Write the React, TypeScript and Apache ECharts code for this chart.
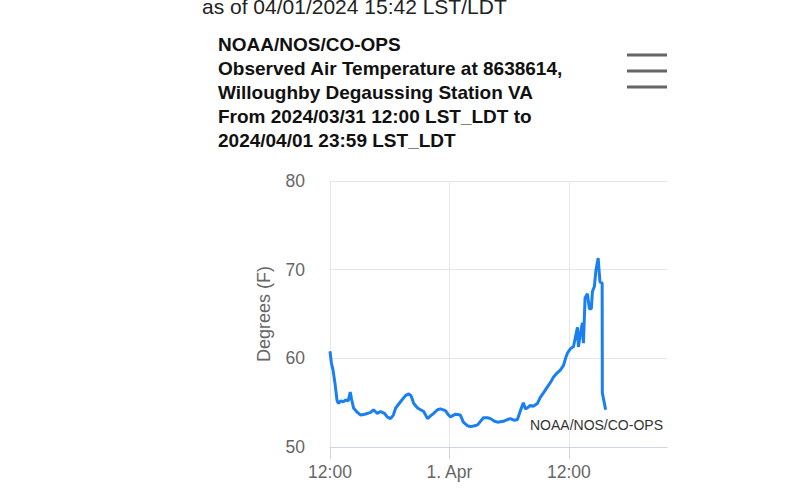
import React, { useEffect, useRef } from "react";
import * as echarts from "echarts";

// Observation times (local LST/LDT) and air temperatures (°F)
const times: string[] = [
  "03-31 12:00", "03-31 12:08", "03-31 12:18", "03-31 12:30", "03-31 12:42", "03-31 12:50",
  "03-31 13:05", "03-31 13:20", "03-31 13:35", "03-31 13:50", "03-31 14:02", "03-31 14:10",
  "03-31 14:22", "03-31 14:45", "03-31 15:05", "03-31 15:30", "03-31 15:48", "03-31 16:05",
  "03-31 16:22", "03-31 16:45", "03-31 17:05", "03-31 17:28", "03-31 17:45", "03-31 18:05",
  "03-31 18:22", "03-31 18:36", "03-31 19:05", "03-31 19:35", "03-31 19:55", "03-31 20:08",
  "03-31 20:25", "03-31 20:48", "03-31 21:25", "03-31 21:48", "03-31 22:06", "03-31 22:25",
  "03-31 22:48", "03-31 23:06", "03-31 23:36", "03-31 23:55",
  "04-01 00:07", "04-01 00:37", "04-01 01:06", "04-01 01:24", "04-01 01:48", "04-01 02:08",
  "04-01 02:32", "04-01 02:50", "04-01 03:25", "04-01 03:50", "04-01 04:08", "04-01 04:32",
  "04-01 04:50", "04-01 05:25", "04-01 05:50", "04-01 06:08", "04-01 06:32", "04-01 06:50",
  "04-01 07:08", "04-01 07:26", "04-01 07:38", "04-01 07:50", "04-01 08:08", "04-01 08:26",
  "04-01 08:50", "04-01 09:08", "04-01 09:27", "04-01 09:52", "04-01 10:10", "04-01 10:28",
  "04-01 10:52", "04-01 11:10", "04-01 11:28", "04-01 11:42", "04-01 11:52", "04-01 12:10",
  "04-01 12:28", "04-01 12:40", "04-01 12:52", "04-01 12:58", "04-01 13:10", "04-01 13:22",
  "04-01 13:28", "04-01 13:38", "04-01 13:52", "04-01 14:04", "04-01 14:16", "04-01 14:22",
  "04-01 14:34", "04-01 14:44", "04-01 14:57", "04-01 15:02", "04-01 15:08", "04-01 15:21",
  "04-01 15:22", "04-01 15:42",
];
const temps: number[] = [
  60.8, 59.5, 58.7, 57.2, 55.3, 54.9,
  55.2, 55.1, 55.3, 55.2, 56.2, 55.4,
  54.4, 53.9, 53.6, 53.7, 53.8, 53.9,
  54.2, 53.8, 54.0, 53.8, 53.4, 53.2,
  53.6, 54.4, 55.1, 55.8, 56.0, 55.8,
  54.9, 54.4, 54.0, 53.2, 53.5, 53.8,
  54.2, 54.3, 54.1, 53.6,
  53.4, 53.7, 53.6, 52.8, 52.4, 52.3,
  52.4, 52.5, 53.3, 53.3, 53.2, 52.9,
  52.8, 52.9, 53.1, 53.2, 53.0, 53.1,
  54.1, 55.0, 54.3, 54.4, 54.7, 54.6,
  54.9, 55.6, 56.1, 56.8, 57.3, 57.9,
  58.4, 58.7, 59.2, 60.1, 60.6, 61.1,
  61.3, 62.4, 63.5, 61.3, 62.8, 64.0,
  61.7, 66.8, 67.3, 65.6, 65.6, 67.5,
  68.1, 70.0, 71.3, 70.0, 68.6, 68.5,
  56.1, 54.2,
];

const yTicks: number[] = [50, 60, 70, 80];
const xStart = "03-31 12:00";
const xEnd = "04-01 21:52";
const xLabelTimes: string[] = ["03-31 12:00", "04-01 00:00", "04-01 12:00"];

const topNote = "as of 04/01/2024 15:42 LST/LDT";
const titleLines: string[] = [
  "NOAA/NOS/CO-OPS",
  "Observed Air Temperature at 8638614,",
  "Willoughby Degaussing Station VA",
  "From 2024/03/31 12:00 LST_LDT to",
  "2024/04/01 23:59 LST_LDT",
];
const yName = "Degrees (F)";
const credit = "NOAA/NOS/CO-OPS";

function toMs(s: string): number {
  const [md, hm] = s.split(" ");
  const [mo, d] = md.split("-").map(Number);
  const [h, m] = hm.split(":").map(Number);
  return Date.UTC(2024, mo - 1, d, h, m);
}

const HOUR = 3600 * 1000;

export default function App() {
  const ref = useRef<HTMLDivElement>(null);
  useEffect(() => {
    if (!ref.current) return;
    const chart = echarts.init(ref.current, undefined, { renderer: "svg" });
    const data = times.map((t, i) => [toMs(t), temps[i]]);
    const labelVals = xLabelTimes.map(toMs);
    const yMin = yTicks[0];
    const yMax = yTicks[yTicks.length - 1];
    const font = "'Liberation Sans', Arial, Helvetica, sans-serif";
    chart.setOption({
      animation: false,
      backgroundColor: "#ffffff",
      textStyle: { fontFamily: font },
      grid: { left: 330, top: 181, width: 337, height: 266, containLabel: false },
      xAxis: {
        type: "value",
        min: toMs(xStart),
        max: toMs(xEnd),
        interval: 12 * HOUR,
        axisLine: { show: true, lineStyle: { color: "#ccd6eb", width: 1 } },
        axisTick: {
          show: true,
          length: 12,
          customValues: labelVals,
          lineStyle: { color: "#ccd6eb", width: 1 },
        },
        axisLabel: {
          customValues: labelVals,
          fontSize: 17.5,
          color: "#666666",
          margin: 16,
          fontFamily: font,
          formatter: (v: number) => {
            const d = new Date(v);
            if (d.getUTCMinutes() !== 0 || d.getUTCHours() % 12 !== 0) return "";
            if (d.getUTCHours() === 0) return d.getUTCDate() + ". Apr";
            const hh = String(d.getUTCHours()).padStart(2, "0");
            return hh + ":00";
          },
        },
        splitLine: { show: false },
      },
      yAxis: {
        type: "value",
        min: yMin,
        max: yMax,
        interval: 10,
        name: yName,
        nameLocation: "middle",
        nameGap: 57,
        nameTextStyle: { fontSize: 18, color: "#666666", fontFamily: font },
        axisLine: { show: false },
        axisTick: { show: false },
        axisLabel: { fontSize: 17.5, color: "#666666", margin: 25, fontFamily: font },
        splitLine: { show: true, lineStyle: { color: "#e6e6e6", width: 1 } },
      },
      series: [
        {
          type: "line",
          name: "gridlines",
          data: [],
          silent: true,
          z: 1,
          markLine: {
            silent: true,
            symbol: ["none", "none"],
            label: { show: false },
            lineStyle: { color: "#e6e6e6", width: 1, type: "solid" },
            emphasis: { disabled: true },
            data: labelVals.map((v) => [{ coord: [v, yMin] }, { coord: [v, yMax] }]),
          },
        },
        {
          type: "line",
          name: "Air Temperature",
          data,
          showSymbol: false,
          symbol: "none",
          lineStyle: { color: "#1a7ff0", width: 3 },
          itemStyle: { color: "#1a7ff0" },
          z: 5,
        },
      ],
      graphic: [
        {
          type: "text",
          x: 202,
          y: 6,
          style: {
            text: topNote,
            font: `21px ${font}`,
            fill: "#222222",
            textVerticalAlign: "middle",
          },
        },
        {
          type: "text",
          x: 218,
          y: 33,
          style: {
            text: titleLines.join("\n"),
            font: `bold 19px ${font}`,
            lineHeight: 23.8,
            fill: "#111111",
            textVerticalAlign: "top",
          },
        },
        {
          type: "group",
          children: [55, 71, 87].map((yy) => ({
            type: "line",
            shape: { x1: 627, y1: yy, x2: 667, y2: yy },
            style: { stroke: "#666666", lineWidth: 3 },
          })),
        },
        {
          type: "text",
          x: 663,
          y: 425,
          style: {
            text: credit,
            font: `14px ${font}`,
            fill: "#333333",
            textAlign: "right",
            textVerticalAlign: "middle",
          },
        },
      ],
    });
    return () => chart.dispose();
  }, []);
  return (
    <div
      ref={ref}
      style={{ position: "fixed", left: 0, top: 0, width: 800, height: 500, background: "#fff" }}
    />
  );
}
